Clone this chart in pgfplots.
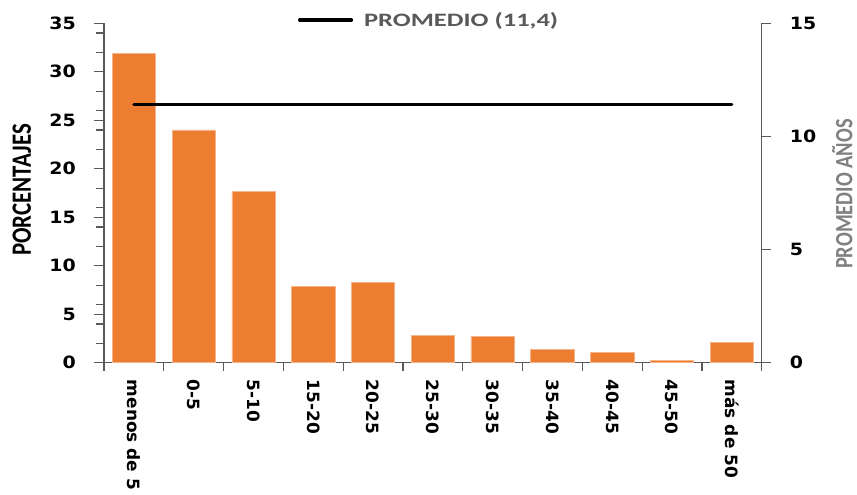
\documentclass[border=0pt]{standalone}
\usepackage{fontspec}
\usepackage{pgfplots}
\usepackage{pgfplotstable}
\pgfplotsset{compat=1.18}
\setmainfont{DejaVu Sans}
\newfontfamily\tickfont{DejaVu Sans}[FakeStretch=1.12]
\newfontfamily\xfont{DejaVu Sans}
\newfontfamily\titfont{Carlito}[FakeStretch=0.82]
\newfontfamily\legfont{Carlito}[FakeStretch=1.4]
\definecolor{barorange}{HTML}{ED7D31}
\definecolor{barborder}{HTML}{F5B48A}
\definecolor{axgray}{HTML}{595959}
\definecolor{leggray}{HTML}{595959}
\definecolor{titgray}{HTML}{808080}

\pgfplotstableread{
x y
0 31.9
1 24.0
2 17.7
3 7.9
4 8.3
5 2.8
6 2.7
7 1.4
8 1.1
9 0.2
10 2.1
}\bardata

\begin{document}
\begin{tikzpicture}
\useasboundingbox (-104bp,-132.3bp) rectangle (753bp,362.7bp);
\clip (-104bp,-132.3bp) rectangle (753bp,362.7bp);
\begin{axis}[
  at={(0,0)}, anchor=south west,
  width=657.7bp, height=339.4bp, scale only axis,
  xmin=-0.5, xmax=10.5, ymin=0, ymax=35,
  axis x line*=bottom, axis y line*=left,
  axis line style={axgray, line width=1.2bp},
  every tick/.style={axgray, line width=1.2bp},
  tick align=outside,
  major tick length=10bp, minor tick length=8bp,
  ytick={0,5,...,35}, minor ytick={2,4,...,34},
  xtick={0,...,10},
  xticklabels={menos de 5,0-5,5-10,15-20,20-25,25-30,30-35,35-40,40-45,45-50,más de 50},
  major x tick style={draw=none},
  minor xtick={-0.5,0.5,...,10.5},
  /pgf/number format/assume math mode=true,
  xticklabel style={font=\fontsize{17}{20}\selectfont\xfont\bfseries, rotate=-90, anchor=west, inner sep=0pt, xshift=7bp},
  yticklabel style={font=\fontsize{17}{20}\selectfont\tickfont\bfseries, inner sep=0pt, anchor=east, xshift=-18bp},
  ylabel={PORCENTAJES},
  ylabel style={font=\fontsize{28}{30}\selectfont\titfont\bfseries, at={(axis description cs:-0.1251,0.509)}, anchor=center, rotate=0},
]
\addplot[ybar, bar width=43.3bp, fill=barorange, draw=barborder, line width=0.6bp] table[x=x,y=y] {\bardata};
\end{axis}
\begin{axis}[
  at={(0,0)}, anchor=south west,
  width=657.7bp, height=339.4bp, scale only axis,
  xmin=-0.5, xmax=10.5, ymin=0, ymax=15,
  axis x line=none, axis y line*=right,
  axis line style={axgray, line width=1.2bp},
  every tick/.style={axgray, line width=1.2bp},
  tick align=outside,
  major tick length=9bp,
  ytick={0,5,10,15},
  /pgf/number format/assume math mode=true,
  yticklabel style={font=\fontsize{17}{20}\selectfont\tickfont\bfseries, inner sep=0pt, anchor=west, xshift=19bp},
  ylabel={PROMEDIO AÑOS},
  ylabel style={font=\fontsize{25}{27}\selectfont\titfont\bfseries, text=titgray, at={(axis description cs:1.1225,0.497)}, anchor=center},
  legend style={draw=none, fill=none, inner sep=0pt, outer sep=0pt,
    nodes={inner sep=0pt, font=\fontsize{19}{21}\selectfont\legfont\bfseries, text=leggray},
    column sep=11bp,
    at={(axis description cs:0.295,1.0097)}, anchor=west},
  legend image code/.code={\draw[#1] (1.6bp,0bp) -- (53.4bp,0bp);},
]
\addplot[black, line width=3.3bp, line cap=round] coordinates {(0,11.4) (10,11.4)};
\addlegendentry{PROMEDIO (11,4)}
\end{axis}
\end{tikzpicture}
\end{document}
